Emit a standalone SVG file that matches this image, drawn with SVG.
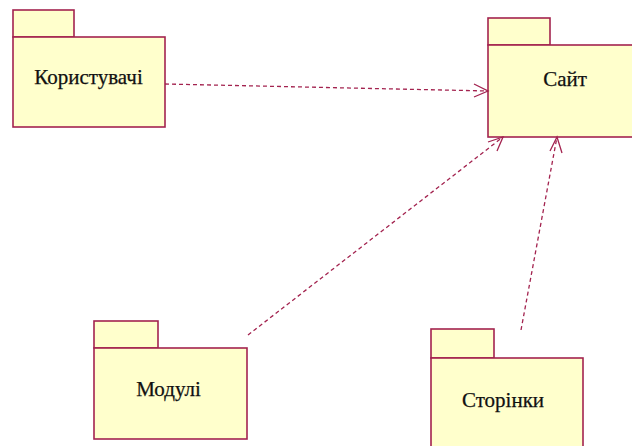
<svg xmlns="http://www.w3.org/2000/svg" width="632" height="446" viewBox="0 0 632 446">
  <style>
    .pkg { fill: #FFFFCC; stroke: #A3234F; stroke-width: 1.6; }
    .lbl { font-family: 'Liberation Serif', 'DejaVu Serif', serif; font-size: 21px; fill: #111; stroke: #111; stroke-width: 0.25; text-anchor: middle; }
    .dep { fill: none; stroke: #A3234F; stroke-width: 1.3; stroke-dasharray: 4 3; }
    .head { fill: none; stroke: #A3234F; stroke-width: 1.3; }
  </style>
  <rect width="632" height="446" fill="#ffffff"/>

  <g id="users">
    <rect class="pkg" x="13" y="10" width="61" height="27"/>
    <rect class="pkg" x="13" y="37" width="152" height="90"/>
    <text class="lbl" x="88.5" y="83.5">Користувачі</text>
  </g>

  <g id="site">
    <rect class="pkg" x="488" y="18" width="62" height="27"/>
    <rect class="pkg" x="488" y="45" width="150" height="92"/>
    <text class="lbl" x="565" y="85.5">Сайт</text>
  </g>

  <g id="modules">
    <rect class="pkg" x="94" y="321" width="64" height="27"/>
    <rect class="pkg" x="94" y="348" width="153" height="91"/>
    <text class="lbl" x="168.5" y="395.5">Модулі</text>
  </g>

  <g id="pages">
    <rect class="pkg" x="431" y="329" width="63" height="29"/>
    <rect class="pkg" x="431" y="358" width="152" height="95"/>
    <text class="lbl" x="503" y="407">Сторінки</text>
  </g>

  <g id="connectors">
    <path class="dep" d="M165,84 L488,91"/>
    <path class="head" d="M474,84 L488,91 L474,97"/>
    <path class="dep" d="M248,335 L503,137"/>
    <path class="head" d="M488,142 L503,137 L497,151"/>
    <path class="dep" d="M521,330 L557,137"/>
    <path class="head" d="M550,151 L557,137 L562,153"/>
  </g>
</svg>
